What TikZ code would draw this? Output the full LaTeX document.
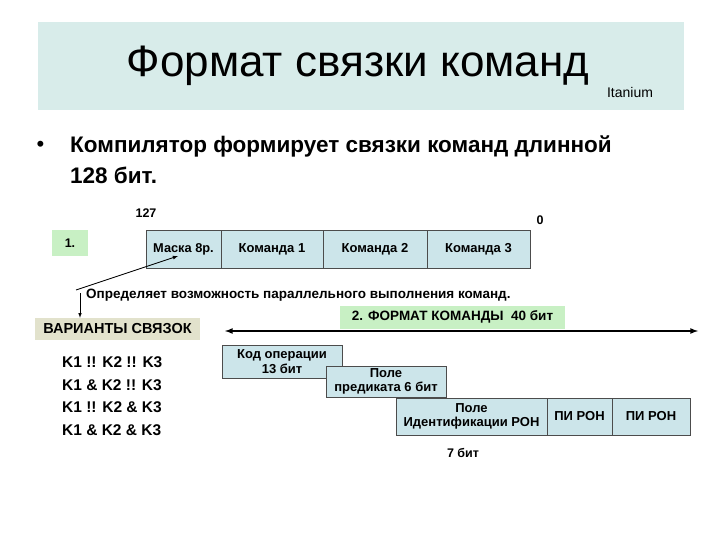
\documentclass[tikz,border=0pt]{standalone}
\usepackage{fontspec}
\setmainfont{Liberation Sans}
\begin{document}
\begin{tikzpicture}[x=1pt,y=-1pt,
  cell/.style={draw=black!70,fill=cellblue,line width=0.6pt,inner sep=0pt,font=\bfseries\fontsize{13}{14.5}\selectfont,align=center},
  lab/.style={inner sep=0pt,font=\bfseries\fontsize{12.5}{14}\selectfont,align=center}]
\definecolor{band}{HTML}{D8ECEA}
\definecolor{cellblue}{HTML}{CCE5EA}
\definecolor{lgreen}{HTML}{C8F0C4}
\definecolor{beige}{HTML}{E2E2CC}
\useasboundingbox (0,0) rectangle (720,540);
\fill[band] (38,22) rectangle (684,110);
\node (title) at (358,66) {\fontsize{44}{48}\selectfont Формат связки команд};
\node (ita) at (630,92) {\fontsize{14}{16}\selectfont Itanium};
\node[anchor=west] (b1) at (33,146) {\fontsize{22}{24}\selectfont •};
\node[anchor=west,inner sep=0pt] (t1) at (70,146) {\bfseries\fontsize{22.5}{24}\selectfont Компилятор формирует связки команд длинной};
\node[anchor=west,inner sep=0pt] (t2) at (70,175) {\bfseries\fontsize{22.5}{24}\selectfont 128 бит.};
\node[lab] (n127) at (146,213) {127};
\node[lab] (n0) at (540,220) {0};
\node[lab,fill=lgreen,minimum width=36,minimum height=25] (one) at (70,243) {1.};
\node[cell,minimum width=75,minimum height=38,font=\bfseries\fontsize{12.8}{14}\selectfont] (m) at (183.5,249) {Маска 8р.};
\node[cell,minimum width=102,minimum height=38] (k1) at (272,249) {Команда 1};
\node[cell,minimum width=104,minimum height=38] (k2) at (375,249) {Команда 2};
\node[cell,minimum width=103,minimum height=38] (k3) at (478.5,249) {Команда 3};
\coordinate (a0) at (76,290);
\coordinate (a1) at (80,293);
\draw[-latex,line width=0.8pt] (a0) -- (178,256);
\node[lab,anchor=west,font=\bfseries\fontsize{13.5}{15}\selectfont] (opr) at (86,295) {Определяет возможность параллельного выполнения команд.};
\node[lab,fill=beige,minimum width=165,minimum height=22,font=\bfseries\fontsize{14.5}{16}\selectfont] (var) at (117.5,329) {ВАРИАНТЫ СВЯЗОК};
\draw[-latex,line width=0.6pt] (a1) -- (var.north -| a1);
\node[lab,fill=lgreen,minimum width=225,minimum height=23,font=\bfseries\fontsize{13.5}{15}\selectfont] (f2) at (452.5,317) {2. ФОРМАТ КОМАНДЫ\ \ 40 бит};
\coordinate (l) at (225,331); \coordinate (r) at (698,331);
\draw[latex-latex,line width=1.6pt] (l) -- (r);
\node[anchor=west,inner sep=0pt,align=left,font=\bfseries\fontsize{15.5}{22.5}\selectfont] (vv) at (62,396)
 {K1 !! K2 !! K3\\K1 \& K2 !! K3\\K1 !! K2 \& K3\\K1 \& K2 \& K3};
\node[cell,minimum width=120,minimum height=33] (ko) at (282,361.5) {Код операции\\13 бит};
\node[cell,minimum width=120,minimum height=31] (pp) at (386,381.5) {Поле\\предиката 6 бит};
\node[cell,minimum width=151,minimum height=37] (pi) at (471.5,416.5) {Поле\\Идентификации РОН};
\node[cell,minimum width=65,minimum height=37] (pr1) at (579.5,416.5) {ПИ РОН};
\node[cell,minimum width=78,minimum height=37] (pr2) at (651,416.5) {ПИ РОН};
\node[lab] (s7) at (463,453) {7 бит};
\end{tikzpicture}
\end{document}
